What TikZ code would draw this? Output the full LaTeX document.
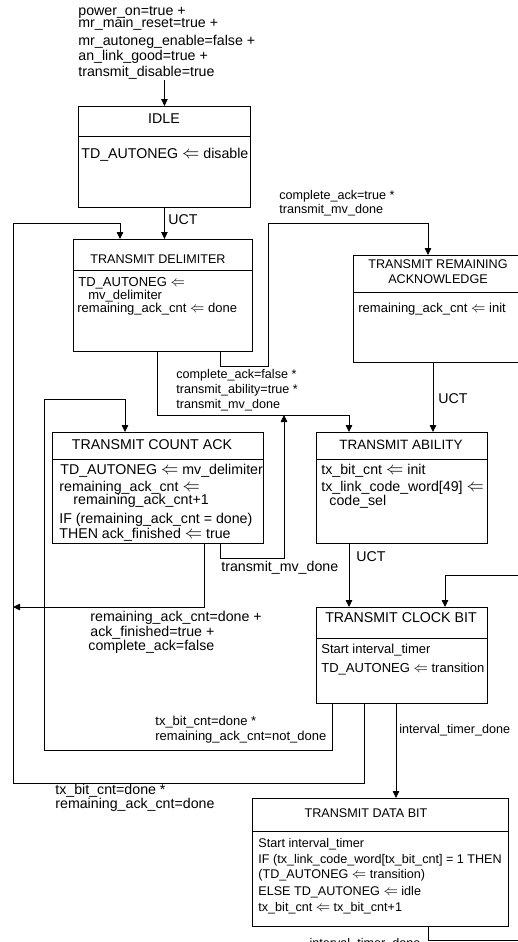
\documentclass[tikz,border=0pt]{standalone}
\usepackage{fontspec}
\setmainfont{Liberation Sans}
\usetikzlibrary{arrows.meta}
\newcommand\divl[2]{\draw ([yshift=-#2pt]#1.north west) -- ([yshift=-#2pt]#1.north east);}
\newcommand\la{\scalebox{1.2}[1.25]{$\Leftarrow$}}
\begin{document}
\begin{tikzpicture}[x=1pt,y=-1pt,line width=0.8pt,
  state/.style 2 args={draw,rectangle,line width=0.9pt,inner sep=0pt,anchor=north west,minimum width=#1,minimum height=#2},
  txt/.style={inner sep=0pt,align=left,anchor=base west},
  ttl/.style={inner sep=0pt,align=center,anchor=base},
  fb/.style={font=\fontsize{14.2pt}{16pt}\selectfont},
  fm/.style={font=\fontsize{13pt}{15pt}\selectfont},
  fs/.style={font=\fontsize{12.6pt}{14.5pt}\selectfont},
  arr/.style={-{Triangle[length=7pt,width=6.5pt]}}]
\useasboundingbox (0,0) rectangle (518,942);
\fill[white] (0,0) rectangle (518,942);
\clip (0,0) rectangle (518,942);
% states
\node[state={172pt}{101pt}] (idle) at (78,106) {};
\divl{idle}{30}
\node[state={179pt}{112pt}] (td) at (73,239) {};
\divl{td}{31}
\node[state={200pt}{107pt}] (tra) at (353,255) {};
\divl{tra}{37}
\node[state={211pt}{111pt}] (tca) at (52,432) {};
\divl{tca}{27}
\node[state={171pt}{111pt}] (ta) at (316,432) {};
\divl{ta}{27}
\node[state={171pt}{96pt}] (tcb) at (316,607) {};
\divl{tcb}{31}
\node[state={256pt}{128pt}] (tdb) at (252,798) {};
\divl{tdb}{33}
% state texts (multi-line nodes are placed by their last baseline)
\node[txt,fb] (init) at (78,77) {power\_on=true +\\[-4pt]mr\_main\_reset=true +\\[1pt]mr\_autoneg\_enable=false +\\an\_link\_good=true +\\transmit\_disable=true};
\node[ttl,fb] (idlet) at (164,123) {IDLE};
\node[txt,fb] (idlec) at (81,158) {TD\_AUTONEG \la{} disable};
\node[ttl,fs] (tdt) at (158,263) {TRANSMIT DELIMITER};
\node[txt,fm] (tdc) at (77,312) {\hspace*{1pt}TD\_AUTONEG \la\\[-2pt]\hspace*{11pt}mv\_delimiter\\[-2pt]remaining\_ack\_cnt \la{} done};
\node[ttl,fs] (trat) at (438,283) {TRANSMIT REMAINING\\[0.5pt]ACKNOWLEDGE};
\node[txt,fm] (trac) at (358,312) {remaining\_ack\_cnt \la{} init};
\node[ttl,fb] (tcat) at (152,449) {TRANSMIT COUNT ACK};
\node[txt,fb] (tcac) at (59,538) {\hspace*{1pt}TD\_AUTONEG \la{} mv\_delimiter\\[1pt]remaining\_ack\_cnt \la\\[-3pt]\hspace*{14pt}remaining\_ack\_cnt+1\\[3pt]IF (remaining\_ack\_cnt = done)\\[-1pt]THEN ack\_finished \la{} true};
\node[ttl,font=\fontsize{13.5pt}{15pt}\selectfont] (tat) at (401,449) {TRANSMIT ABILITY};
\node[txt,fb] (tac) at (321,505) {tx\_bit\_cnt \la{} init\\[1pt]tx\_link\_code\_word[49] \la\\[-2pt]\hspace*{8pt}code\_sel};
\node[ttl,fb] (tcbt) at (401,622) {TRANSMIT CLOCK BIT};
\node[txt,fm] (tcbc) at (321,672) {Start interval\_timer\\[4pt]TD\_AUTONEG \la{} transition};
\node[ttl,fs] (tdbt) at (366,817) {TRANSMIT DATA BIT};
\node[txt,fs] (tdbc) at (258,911) {Start interval\_timer\\[1.5pt]IF (tx\_link\_code\_word[tx\_bit\_cnt] = 1 THEN\\[0.5pt](TD\_AUTONEG \la{} transition)\\[2.5pt]ELSE TD\_AUTONEG \la{} idle\\[1.5pt]tx\_bit\_cnt \la{} tx\_bit\_cnt+1};
% connectors
\draw[arr] (idle.north |- init.south) -- (idle.north);
\draw[arr] (idle.south) -- (idle.south |- td.north);
\node[txt,fb] (uct1) at (168,224) {UCT};
\draw[arr] (364,0 |- tcb.south) -- (364,783) -- (13,783) -- (13,223) -- (120,223) -- (120,0 |- td.north);
\node[txt,fb] (l1) at (55,808) {tx\_bit\_cnt=done *\\[-2pt]remaining\_ack\_cnt=done};
\draw[arr] (332,0 |- tcb.south) -- (332,750) -- (44,750) -- (44,399) -- (125,399) -- (125,0 |- tca.north);
\node[txt,fm] (l2) at (155,740) {tx\_bit\_cnt=done *\\[0pt]remaining\_ack\_cnt=not\_done};
\draw[arr] (220,0 |- td.south) -- (220,366) -- (268,366) -- (268,223) -- (428,223) -- (428,0 |- tra.north);
\node[txt,fs] (l3) at (279,213) {complete\_ack=true *\\[-0.5pt]transmit\_mv\_done};
\draw[arr] (157,0 |- td.south) -- (157,415) -- (349,415) -- (349,0 |- ta.north);
\node[txt,fs] (l4) at (176,408) {complete\_ack=false *\\[0.5pt]transmit\_ability=true *\\[0.5pt]transmit\_mv\_done};
\coordinate (join) at (284,415);
\draw[arr] (220,0 |- tca.south) -- (220,558) -- (284,558) -- (join);
\node[txt,fb] (l5) at (221,571) {transmit\_mv\_done};
\coordinate (lj) at (13,607);
\draw[arr] (204,0 |- tca.south) -- (204,607) -- (lj);
\node[txt,fb] (l6) at (90,650) {remaining\_ack\_cnt=done +\\[-1pt]ack\_finished=true +\\[-2pt]\hspace*{-2pt}complete\_ack=false};
\draw[arr] (433,0 |- tra.south) -- (433,0 |- ta.north);
\node[txt,fb] (uct2) at (438,403) {UCT};
\draw[arr] (349,0 |- ta.south) -- (349,0 |- tcb.north);
\node[txt,fb] (uct3) at (356,561) {UCT};
\draw[arr] (396,0 |- tcb.south) -- (396,0 |- tdb.north);
\node[txt,fs] (l7) at (399,733) {interval\_timer\_done};
\draw[arr] (428,0 |- tdb.south) -- (428,940) -- (560,940) -- (560,575) -- (445,575) -- (445,0 |- tcb.north);
\node[ttl,fs] (l8) at (365,947) {interval\_timer\_done};
\end{tikzpicture}
\end{document}
